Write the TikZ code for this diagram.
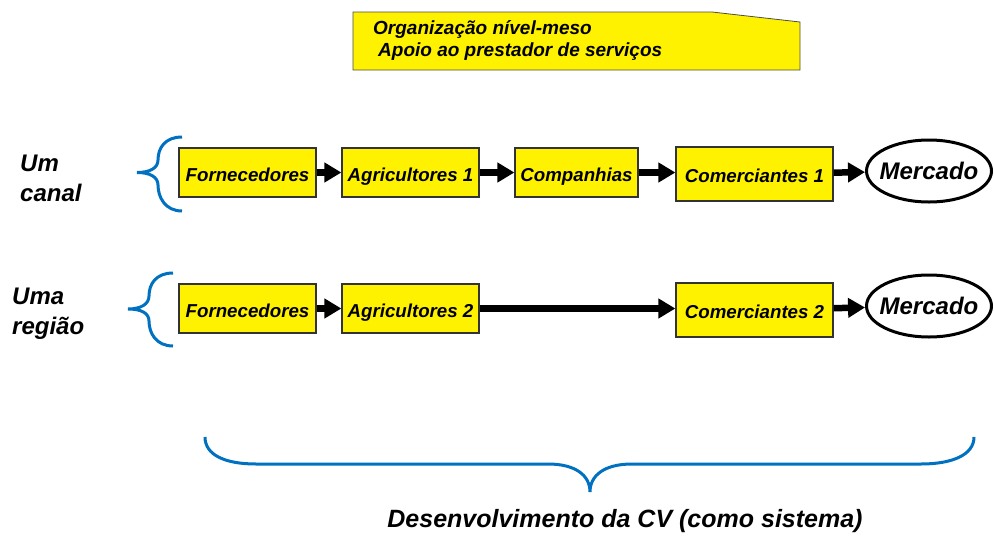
\documentclass[tikz,border=0pt]{standalone}
\usepackage{fontspec}
\setmainfont{Liberation Sans}
\usepackage{tikz}
\usetikzlibrary{arrows,arrows.meta,shapes.geometric}

\definecolor{azul}{RGB}{0,112,192}

\tikzset{
  elo/.style = {draw = black!80, line width = 1.2pt, fill = yellow, inner sep = 0pt,
    minimum width = 137pt, minimum height = 49pt, text height = 17pt, text depth = 0pt,
    font = \fontsize{18.7}{22}\selectfont\bfseries\itshape},
  mercado/.style = {ellipse, draw, line width = 3pt, inner xsep = -10pt, inner ysep = 0pt,
    minimum width = 125pt, minimum height = 62pt,
    font = \fontsize{24}{28}\selectfont\bfseries\itshape},
  seta/.style = {line width = 6.5pt, -{Triangle[length=17pt,width=19pt]}},
  chave/.style = {draw = azul, line width = 3pt},
  rotulo/.style = {anchor = north west, align = left, inner sep = 0pt,
    font = \fontsize{24}{30}\selectfont\bfseries\itshape},
}

\begin{document}
\begin{tikzpicture} [x = 1pt, y = -1pt]
	\useasboundingbox (0,0) rectangle (994,536);
	% nota no topo
	\draw [fill = yellow, draw = black!70, line width = 0.8pt] (353,12) -- (712,12) -- (800,22) -- (800,70) -- (353,70) -- cycle;
	\node [anchor = west, align = left, inner sep = 0pt, font = \fontsize{19}{22}\selectfont\bfseries\itshape] (nota) at (373,41) {Organização nível-meso\\\hspace*{5pt}Apoio ao prestador de serviços};
	% um canal
	\node [rotulo] (canal) at (20,155) {Um\\canal};
	\draw [chave] (182,137) .. controls (165,137) and (158,148) .. (158,160) .. controls (158,168) and (150,172.5) .. (137,172.5) .. controls (150,172.5) and (158,177) .. (158,185) .. controls (158,197) and (165,211) .. (182,211);
	\node [elo] (forn1) at (247.5,172.5) {Fornecedores};
	\node [elo] (agri1) at (410.5,172.5) {Agricultores 1};
	\node [elo, minimum width = 123pt] (comp) at (576.5,172.5) {Companhias};
	\node [elo, minimum width = 157pt, minimum height = 54pt] (come1) at (754.5,174) {Comerciantes 1};
	\node [mercado] (merc1) at (929,171) {Mercado};
	\draw [seta] (forn1) -- (agri1);
	\draw [seta] (agri1) -- (comp);
	\draw [seta] (comp) -- (comp -| come1.west);
	\draw [seta] (come1) -- (merc1);
	% uma regiao
	\node [rotulo] (regiao) at (12,288) {Uma\\região};
	\draw [chave] (173,273) .. controls (156,273) and (149,284) .. (149,296) .. controls (149,304) and (141,309) .. (128,309) .. controls (141,309) and (149,313) .. (149,321) .. controls (149,333) and (156,346) .. (173,346);
	\node [elo] (forn2) at (247.5,308.5) {Fornecedores};
	\node [elo] (agri2) at (410.5,308.5) {Agricultores 2};
	\node [elo, minimum width = 157pt, minimum height = 54pt] (come2) at (754.5,310) {Comerciantes 2};
	\node [mercado] (merc2) at (929,306) {Mercado};
	\draw [seta] (forn2) -- (agri2);
	\draw [seta] (agri2) -- (agri2 -| come2.west);
	\draw [seta] (come2) -- (merc2);
	% chave de baixo
	\draw [chave] (205,437) .. controls (205,455) and (225,464) .. (256,464) -- (548,464) .. controls (575,464) and (590,475) .. (590,492) .. controls (590,475) and (605,464) .. (632,464) -- (921,464) .. controls (952,464) and (974,455) .. (974,437);
	\node [font = \fontsize{25}{30}\selectfont\bfseries\itshape] (cv) at (625,521) {Desenvolvimento da CV (como sistema)};
\end{tikzpicture}
\end{document}
